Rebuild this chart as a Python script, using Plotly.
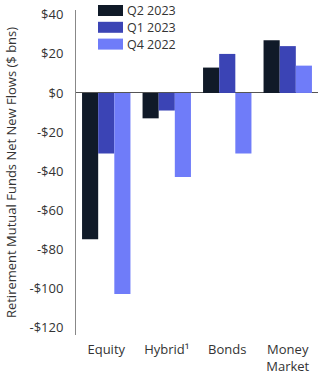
import plotly.graph_objects as go

categories = ["Equity", "Hybrid¹", "Bonds", "Money<br>Market"]
series_names = ["Q2 2023", "Q1 2023", "Q4 2022"]
q2_2023 = [-75, -13, 13, 27]
q1_2023 = [-31, -9, 20, 24]
q4_2022 = [-103, -43, -31, 14]
tick_vals = [40, 20, 0, -20, -40, -60, -80, -100, -120]
tick_text = ["$40", "$20", "$0", "-$20", "-$40", "-$60", "-$80", "-$100", "-$120"]

colors = ["#101a28", "#3b44b5", "#6f7cf9"]
series_values = [q2_2023, q1_2023, q4_2022]

W, H = 321, 376
ML, MR, MT, MB = 76, 3, 10, 41
PW, PH = W - ML - MR, H - MT - MB


def px_x(p):
    return (p - ML) / PW


def px_y(p):
    return (H - MB - p) / PH


fig = go.Figure()
for name, vals, col in zip(series_names, series_values, colors):
    fig.add_trace(go.Bar(x=categories, y=vals, name=name, showlegend=False,
                         marker=dict(color=col, line=dict(width=0))))

# custom legend (wide swatches, tight rows like the reference)
for i, (name, col) in enumerate(zip(series_names, colors)):
    top = 5 + 16.8 * i
    fig.add_shape(type="rect", xref="paper", yref="paper",
                  x0=px_x(98), x1=px_x(123), y0=px_y(top), y1=px_y(top + 11),
                  fillcolor=col, line=dict(width=0), layer="above")
    fig.add_annotation(xref="paper", yref="paper", x=px_x(126), y=px_y(top + 5.5),
                       xanchor="left", yanchor="middle", text=name, showarrow=False,
                       borderpad=0, font=dict(size=12.5, color="#333333"))

font_family = "Open Sans, sans-serif"
fig.update_layout(
    width=W, height=H,
    margin=dict(l=ML, r=MR, t=MT, b=MB, autoexpand=False),
    paper_bgcolor="white", plot_bgcolor="white",
    barmode="group", bargap=0.2, bargroupgap=0,
    font=dict(family=font_family, size=13, color="#333333"),
    showlegend=False,
)
fig.update_xaxes(showline=False, showgrid=False, zeroline=False, automargin=False,
                 ticks="outside", ticklen=2, tickcolor="rgba(0,0,0,0)",
                 tickfont=dict(size=13, color="#333333"))
fig.update_yaxes(range=[-124, 42.5], tickvals=tick_vals, ticktext=tick_text,
                 automargin=False,
                 showgrid=False, showline=True, linecolor="#888888", linewidth=1,
                 zeroline=True, zerolinecolor="#555555", zerolinewidth=1,
                 ticks="outside", ticklen=9, tickcolor="rgba(0,0,0,0)",
                 tickfont=dict(size=13, color="#333333"),
                 title=dict(text="Retirement Mutual Funds Net New Flows ($ bns)",
                            font=dict(size=13, color="#333333"), standoff=9))

fig.write_html("out.html")
